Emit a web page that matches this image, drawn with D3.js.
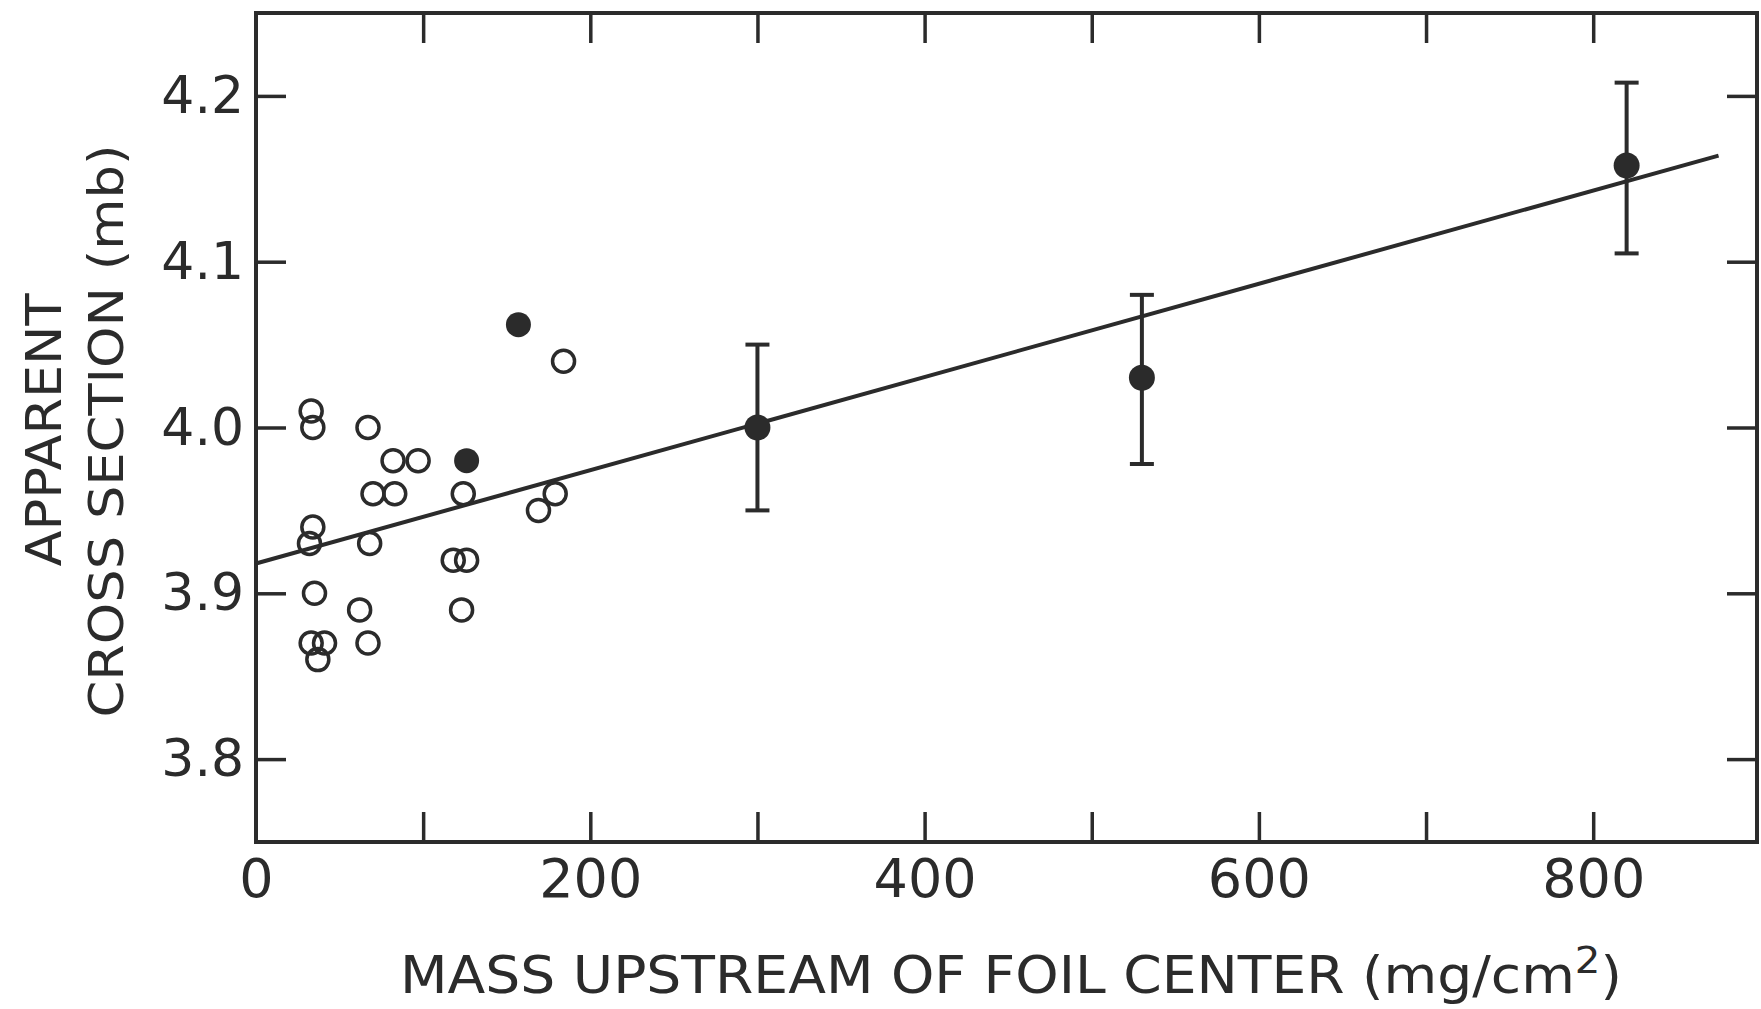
<!DOCTYPE html>
<html lang="en">

<head>
    <meta charset="UTF-8">
    <title>Apparent cross section vs mass upstream</title>
    <script type="text/javascript" src="https://cdnjs.cloudflare.com/ajax/libs/d3/7.8.5/d3.min.js"></script>
    <style>
        body { margin: 0; background: #fff; }
        svg text { font-family: "DejaVu Sans", sans-serif; fill: #2b2b2b; }
    </style>
</head>

<body>
    <div id="draw-here"></div>

    <script>
        var w = 1761;
        var h = 1009;
        var ink = "#2b2b2b";

        // open circles (single foils)
        var openX = [33, 34, 67, 82, 97, 70, 83, 124, 179, 169, 34, 32, 68, 118, 126, 35, 62, 123, 33, 41, 37, 67, 184];
        var openY = [4.01, 4.00, 4.00, 3.98, 3.98, 3.96, 3.96, 3.96, 3.96, 3.95, 3.94, 3.93, 3.93, 3.92, 3.92, 3.90, 3.89, 3.89, 3.87, 3.87, 3.86, 3.87, 4.04];

        // filled circles without error bars
        var filledX = [126, 157];
        var filledY = [3.98, 4.062];

        // filled circles with error bars
        var errX = [300, 530, 820];
        var errY = [4.00, 4.03, 4.158];
        var errLow = [3.95, 3.978, 4.105];
        var errHigh = [4.05, 4.08, 4.208];

        // fitted straight line
        var fitX = [0, 875];
        var fitY = [3.918, 4.164];

        var xTicks = [100, 200, 300, 400, 500, 600, 700, 800];
        var xTickLabels = [0, 200, 400, 600, 800];
        var yTicks = [3.8, 3.9, 4.0, 4.1, 4.2];

        // plot frame (note: "top" is reserved on window, so prefixed names)
        var plotL = 256, plotR = 1757, plotT = 13, plotB = 842;

        var x = d3.scaleLinear().domain([0, 898]).range([plotL, plotR]);
        var y = d3.scaleLinear().domain([3.75, 4.25]).range([plotB, plotT]);

        var svg = d3.select("#draw-here")
            .append("svg")
            .attr("width", w)
            .attr("height", h);

        // axes with inward ticks on all four sides
        function styleAxis(g) {
            g.select(".domain").remove();
            g.selectAll(".tick line").attr("stroke", ink).attr("stroke-width", 3.5);
            g.selectAll(".tick text").attr("fill", ink);
        }

        svg.append("g")
            .attr("transform", "translate(0," + plotB + ")")
            .call(d3.axisBottom(x).tickValues([0].concat(xTicks)).tickSizeInner(-30).tickSizeOuter(0).tickPadding(17)
                .tickFormat(function(d) { return xTickLabels.indexOf(d) >= 0 ? d : ""; }))
            .call(styleAxis)
            .call(function(g) {
                g.selectAll(".tick").filter(function(d) { return d === 0; }).select("line").remove();
                g.selectAll(".tick text").attr("font-size", 54).attr("font-family", "DejaVu Sans");
            });

        svg.append("g")
            .attr("transform", "translate(0," + plotT + ")")
            .call(d3.axisTop(x).tickValues(xTicks).tickSizeInner(-30).tickSizeOuter(0).tickFormat(""))
            .call(styleAxis);

        svg.append("g")
            .attr("transform", "translate(" + plotL + ",0)")
            .call(d3.axisLeft(y).tickValues(yTicks).tickSizeInner(-30).tickSizeOuter(0).tickPadding(12)
                .tickFormat(d3.format(".1f")))
            .call(styleAxis)
            .call(function(g) {
                g.selectAll(".tick text").attr("font-size", 52).attr("font-family", "DejaVu Sans");
            });

        svg.append("g")
            .attr("transform", "translate(" + plotR + ",0)")
            .call(d3.axisRight(y).tickValues(yTicks).tickSizeInner(-30).tickSizeOuter(0).tickFormat(""))
            .call(styleAxis);

        // frame
        svg.append("rect")
            .attr("x", plotL)
            .attr("y", plotT)
            .attr("width", plotR - plotL)
            .attr("height", plotB - plotT)
            .attr("fill", "none")
            .attr("stroke", ink)
            .attr("stroke-width", 4);

        // fit line
        svg.append("line")
            .attr("x1", x(fitX[0]))
            .attr("y1", y(fitY[0]))
            .attr("x2", x(fitX[1]))
            .attr("y2", y(fitY[1]))
            .attr("stroke", ink)
            .attr("stroke-width", 4);

        // error bars
        var bars = svg.selectAll("g.err")
            .data(errX)
            .enter()
            .append("g")
            .attr("class", "err")
            .attr("stroke", ink)
            .attr("stroke-width", 4);
        bars.append("line")
            .attr("x1", function(d) { return x(d); })
            .attr("x2", function(d) { return x(d); })
            .attr("y1", function(d, i) { return y(errLow[i]); })
            .attr("y2", function(d, i) { return y(errHigh[i]); });
        bars.append("line")
            .attr("x1", function(d) { return x(d) - 12; })
            .attr("x2", function(d) { return x(d) + 12; })
            .attr("y1", function(d, i) { return y(errHigh[i]); })
            .attr("y2", function(d, i) { return y(errHigh[i]); });
        bars.append("line")
            .attr("x1", function(d) { return x(d) - 12; })
            .attr("x2", function(d) { return x(d) + 12; })
            .attr("y1", function(d, i) { return y(errLow[i]); })
            .attr("y2", function(d, i) { return y(errLow[i]); });

        svg.selectAll("circle.errpt")
            .data(errX)
            .enter()
            .append("circle")
            .attr("class", "errpt")
            .attr("cx", function(d) { return x(d); })
            .attr("cy", function(d, i) { return y(errY[i]); })
            .attr("r", 13)
            .attr("fill", ink);

        svg.selectAll("circle.filled")
            .data(filledX)
            .enter()
            .append("circle")
            .attr("class", "filled")
            .attr("cx", function(d) { return x(d); })
            .attr("cy", function(d, i) { return y(filledY[i]); })
            .attr("r", 12.5)
            .attr("fill", ink);

        svg.selectAll("circle.open")
            .data(openX)
            .enter()
            .append("circle")
            .attr("class", "open")
            .attr("cx", function(d) { return x(d); })
            .attr("cy", function(d, i) { return y(openY[i]); })
            .attr("r", 11)
            .attr("fill", "none")
            .attr("stroke", ink)
            .attr("stroke-width", 3.5);

        // axis titles
        var xTitle = svg.append("text")
            .attr("x", 400)
            .attr("y", 993)
            .attr("font-size", 52)
            .attr("textLength", 1222)
            .attr("lengthAdjust", "spacingAndGlyphs");
        xTitle.append("tspan").text("MASS UPSTREAM OF FOIL CENTER (mg/cm");
        xTitle.append("tspan").attr("dy", -20).attr("font-size", 38).text("2");
        xTitle.append("tspan").attr("dy", 20).text(")");

        svg.append("text")
            .attr("transform", "translate(61,430) rotate(-90)")
            .attr("text-anchor", "middle")
            .attr("font-size", 50)
            .attr("textLength", 273)
            .attr("lengthAdjust", "spacingAndGlyphs")
            .text("APPARENT");

        svg.append("text")
            .attr("transform", "translate(123,431) rotate(-90)")
            .attr("text-anchor", "middle")
            .attr("font-size", 48)
            .attr("textLength", 573)
            .attr("lengthAdjust", "spacingAndGlyphs")
            .text("CROSS SECTION (mb)");
    </script>
</body>

</html>
